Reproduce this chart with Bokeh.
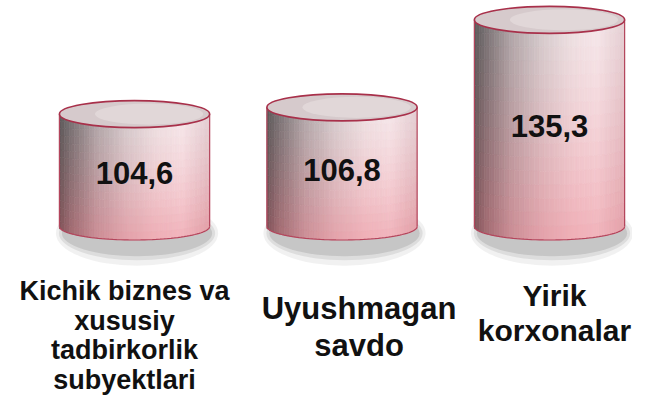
import numpy as np
from bokeh.plotting import figure
from bokeh.models import Range1d
from bokeh.core.properties import value
from bokeh.embed import file_html
from bokeh.resources import INLINE

# ---- data ----
categories = ["Kichik biznes va\nxususiy\ntadbirkorlik\nsubyektlari",
              "Uyushmagan\nsavdo",
              "Yirik\nkorxonalar"]
values = [104.6, 106.8, 135.3]
value_labels = ["104,6", "106,8", "135,3"]

# ---- style ----
BASE = 68.0          # value-axis baseline of the cylinders
RX = 0.362           # half width of a cylinder (category units)
RY = 4.4             # half height of the ellipses (value units)
FONT = "Liberation Sans"
LABEL_SIZES = ["27px", "31px", "30px"]
LABEL_LH = [0.98, 1.05, 1.04]
LABEL_DX = [-10, 17, 5]
LABEL_DY = [50, 65, 53]
NX, NY = 60, 16

TOP_STOPS = [(0.00, (92, 89, 90)), (0.08, (122, 115, 117)), (0.25, (178, 168, 170)),
             (0.45, (214, 204, 206)), (0.65, (238, 225, 227)), (0.82, (246, 231, 234)),
             (1.00, (228, 206, 210))]
BOT_STOPS = [(0.00, (128, 82, 88)), (0.08, (165, 108, 115)), (0.25, (205, 142, 150)),
             (0.45, (228, 162, 170)), (0.65, (240, 174, 182)), (0.82, (242, 180, 188)),
             (1.00, (228, 160, 168))]


def interp(stops, u):
    for (u0, c0), (u1, c1) in zip(stops[:-1], stops[1:]):
        if u <= u1:
            f = (u - u0) / (u1 - u0)
            return np.array(c0) * (1 - f) + np.array(c1) * f
    return np.array(stops[-1][1])


def body_color(u, t):
    t = t ** 1.3
    c = interp(TOP_STOPS, u) * (1 - t) + interp(BOT_STOPS, u) * t
    return "#%02x%02x%02x" % tuple(int(round(v)) for v in c)


xs = list(range(len(values)))

p = figure(width=632, height=397, x_range=Range1d(-0.646, 2.400),
           y_range=Range1d(12.3, 141.6), output_backend="svg", toolbar_location=None,
           x_axis_location=None, y_axis_location=None, min_border=0)
p.grid.visible = False
p.outline_line_color = None
p.background_fill_color = "white"

# shadows
for sw, sh, a in [(1.08, 2.4, 0.08), (1.04, 2.0, 0.12), (1.0, 1.7, 0.16)]:
    p.ellipse(x=[x + 0.012 for x in xs], y=[BASE - RY * 0.5] * len(xs),
              width=2 * RX * sw, height=2 * RY * sh,
              fill_color="#505050", fill_alpha=a, line_color=None)

# bodies as gradient strips
L, R, B, T, C = [], [], [], [], []
for x, v in zip(xs, values):
    for i in range(NX):
        u0, u1 = i / NX, (i + 1) / NX
        um = (u0 + u1) / 2
        bot = BASE - RY * np.sqrt(max(0.0, 1 - (2 * um - 1) ** 2))
        edges = np.linspace(v, bot, NY + 1)
        for j in range(NY):
            L.append(x - RX + 2 * RX * u0)
            R.append(x - RX + 2 * RX * u1)
            T.append(edges[j])
            B.append(edges[j + 1])
            C.append(body_color(um, (j + 0.5) / NY))
p.quad(left=L, right=R, bottom=B, top=T, fill_color=C, line_color=C, line_width=0.6)

# body outline: sides and bottom curve
for side in (-1, 1):
    p.segment(x0=[x + side * RX for x in xs], y0=[BASE] * len(xs),
              x1=[x + side * RX for x in xs], y1=values,
              line_color="#b4455c", line_width=1.2)
ang = np.linspace(np.pi, 2 * np.pi, 60)
p.multi_line(xs=[list(x + RX * np.cos(ang)) for x in xs],
             ys=[list(BASE + RY * np.sin(ang)) for _ in xs],
             line_color="#b4455c", line_width=1.2)

# top ellipses
p.ellipse(x=xs, y=values, width=2 * RX, height=2 * RY,
          fill_color="#d6cacc", line_color="#a8304a", line_width=1.6)
p.ellipse(x=[x + 0.07 for x in xs], y=values, width=2 * RX * 0.72, height=2 * RY * 0.78,
          fill_color="#e8dfe0", fill_alpha=0.6, line_color=None)

# value labels
p.text(x=xs, y=[(BASE + v) / 2 for v in values], text=value_labels,
       text_font=value(FONT), text_font_style="bold", text_font_size="31px",
       text_align="center", text_baseline="middle", text_color="#111111", y_offset=3)

# category labels
for i, x in enumerate(xs):
    p.text(x=[x], y=[BASE], text=[categories[i]], text_font=value(FONT),
           text_font_style="bold", text_font_size=LABEL_SIZES[i],
           text_line_height=LABEL_LH[i], text_align="center", text_baseline="top",
           text_color="#111111", x_offset=LABEL_DX[i], y_offset=LABEL_DY[i])

open("out.html", "w").write(file_html(p, INLINE))
